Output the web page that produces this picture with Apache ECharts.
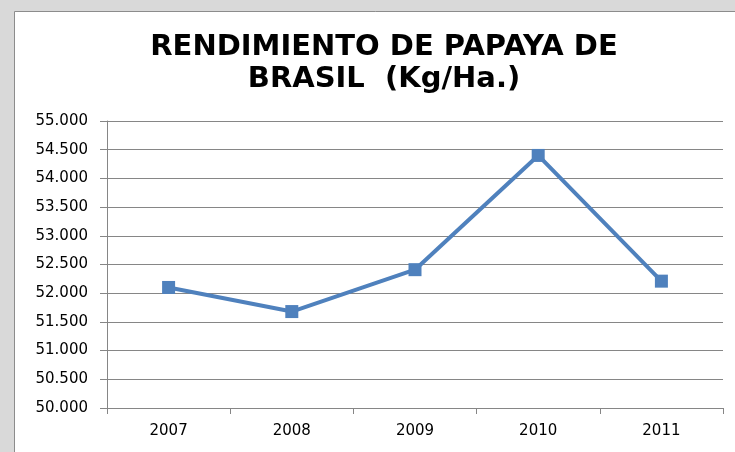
<!DOCTYPE html>
<html>
<head>
<meta charset="utf-8">
<title>Rendimiento de papaya de Brasil</title>
<script src="https://cdn.jsdelivr.net/npm/echarts@6/dist/echarts.min.js"></script>
<style>
  html, body { margin: 0; padding: 0; background: #d9d9d9; }
  #chart { width: 735px; height: 452px; }
</style>
</head>
<body>
<div id="chart"></div>
<script>
const years = ['2007', '2008', '2009', '2010', '2011'];
const yieldKgHa = [52100, 51680, 52410, 54400, 52210];
const yMin = 50000;
const yMax = 55000;
const yStep = 500;

const chart = echarts.init(document.getElementById('chart'));

chart.setOption({
  backgroundColor: '#d9d9d9',
  animation: false,
  graphic: [
    {
      type: 'rect',
      z: -10,
      shape: { x: 14.5, y: 11.5, width: 740, height: 460 },
      style: { fill: '#ffffff', stroke: '#8c8c8c', lineWidth: 1 }
    }
  ],
  title: {
    text: 'RENDIMIENTO DE PAPAYA DE\nBRASIL  (Kg/Ha.)',
    left: 379,
    top: 26,
    textAlign: 'center',
    textStyle: {
      fontFamily: 'DejaVu Sans',
      fontWeight: 'bold',
      fontSize: 29,
      lineHeight: 32,
      color: '#000000'
    }
  },
  grid: { left: 107, right: 12, top: 121, bottom: 44 },
  xAxis: {
    type: 'category',
    data: years,
    boundaryGap: true,
    axisLine: { lineStyle: { color: '#868686', width: 1 } },
    axisTick: { show: true, length: 6, alignWithLabel: false, lineStyle: { color: '#868686' } },
    axisLabel: {
      margin: 16,
      fontFamily: 'DejaVu Sans',
      fontSize: 15,
      color: '#000000'
    }
  },
  yAxis: {
    type: 'value',
    min: yMin,
    max: yMax,
    interval: yStep,
    axisLine: { show: true, lineStyle: { color: '#868686', width: 1 } },
    axisTick: { show: true, length: 7, lineStyle: { color: '#868686' } },
    splitLine: { show: true, lineStyle: { color: '#868686', width: 1 } },
    axisLabel: {
      margin: 19,
      fontFamily: 'DejaVu Sans',
      fontSize: 15,
      color: '#000000',
      formatter: v => (v / 1000).toFixed(3)
    }
  },
  series: [
    {
      type: 'line',
      data: yieldKgHa,
      symbol: 'rect',
      symbolSize: 13,
      lineStyle: { color: '#4f81bd', width: 4 },
      itemStyle: { color: '#4f81bd' }
    }
  ]
});
</script>
</body>
</html>
